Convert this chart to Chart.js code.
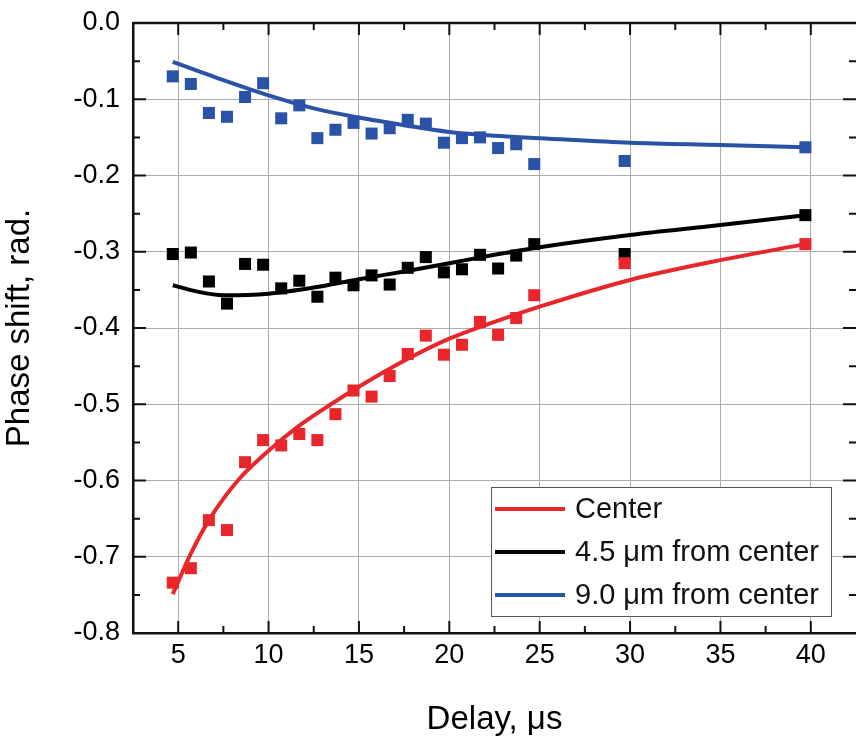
<!DOCTYPE html>
<html>
<head>
<meta charset="utf-8">
<script src="https://cdn.jsdelivr.net/npm/chart.js@4"></script>
<style>
  html, body { margin: 0; padding: 0; background: #fff; overflow: hidden; }
  canvas { display: block; }
</style>
</head>
<body>
<canvas id="phaseChart" width="856" height="743"></canvas>
<script>
// measured points, delay in µs
const delays = [4.7, 5.7, 6.7, 7.7, 8.7, 9.7, 10.7, 11.7, 12.7, 13.7, 14.7, 15.7,
  16.7, 17.7, 18.7, 19.7, 20.7, 21.7, 22.7, 23.7, 24.7, 29.7, 39.7];
const centerShift = [-0.734, -0.715, -0.652, -0.665, -0.576, -0.547, -0.554, -0.539,
  -0.547, -0.513, -0.482, -0.490, -0.463, -0.434, -0.410, -0.435, -0.422, -0.392,
  -0.409, -0.387, -0.357, -0.315, -0.290];
const shift45 = [-0.303, -0.301, -0.339, -0.368, -0.316, -0.317, -0.348, -0.338,
  -0.359, -0.334, -0.344, -0.331, -0.343, -0.321, -0.307, -0.327, -0.323, -0.304,
  -0.322, -0.305, -0.290, -0.303, -0.252];
const shift90 = [-0.070, -0.080, -0.118, -0.123, -0.097, -0.079, -0.125, -0.108,
  -0.151, -0.140, -0.131, -0.145, -0.138, -0.127, -0.132, -0.157, -0.151, -0.150,
  -0.164, -0.159, -0.185, -0.181, -0.163];

// fitted curves, sampled along the delay axis
const centerFitDelays = [4.7, 5.7, 6.7, 8.3, 10, 11.7, 13.45, 15, 17.5, 20, 22.5, 25, 30, 35, 39.7];
const centerFit = [-0.749, -0.696, -0.652, -0.600, -0.561, -0.528, -0.500, -0.477,
  -0.443, -0.414, -0.392, -0.372, -0.337, -0.311, -0.290];
const fitDelays = [4.7, 6, 7.5, 10, 12.5, 15, 17.5, 20, 22.5, 25, 30, 35, 39.7];
const fit45 = [-0.344, -0.352, -0.357, -0.355, -0.347, -0.336, -0.326, -0.315,
  -0.304, -0.294, -0.278, -0.265, -0.252];
const fit90 = [-0.051, -0.062, -0.075, -0.095, -0.112, -0.124, -0.134, -0.143,
  -0.148, -0.151, -0.157, -0.160, -0.163];

const seriesNames = ['Center', '4.5 μm from center', '9.0 μm from center'];
const seriesColors = ['#e8262b', '#000000', '#2a52a6'];

const xMajor = [5, 10, 15, 20, 25, 30, 35, 40];
const yMajor = [0, -0.1, -0.2, -0.3, -0.4, -0.5, -0.6, -0.7, -0.8];

const fontFamily = "'Liberation Sans', Arial, sans-serif";

const toPoints = (xs, ys) => xs.map((x, i) => ({ x: x, y: ys[i] }));

const pointSets = [centerShift, shift45, shift90].map((ys, i) => ({
  label: seriesNames[i] + ' data',
  data: toPoints(delays, ys),
  pointStyle: 'rect',
  pointRadius: 8.5,
  pointBorderWidth: 0,
  backgroundColor: seriesColors[i],
  borderColor: seriesColors[i],
  showLine: false
}));

const fitSets = [
  [centerFitDelays, centerFit],
  [fitDelays, fit45],
  [fitDelays, fit90]
].map(([xs, ys], i) => ({
  label: seriesNames[i],
  fit: true,
  data: toPoints(xs, ys),
  showLine: true,
  borderColor: seriesColors[i],
  backgroundColor: seriesColors[i],
  borderWidth: 4,
  pointRadius: 0,
  cubicInterpolationMode: 'monotone'
}));

// inward tick marks on all four sides plus the top border
const axisFrame = {
  id: 'axisFrame',
  afterDatasetsDraw(chart) {
    const { ctx, chartArea: a, scales: { x, y } } = chart;
    ctx.save();
    ctx.strokeStyle = '#111';
    ctx.lineWidth = 2.5;
    ctx.beginPath();
    ctx.moveTo(a.left, a.top);
    ctx.lineTo(a.right, a.top);
    ctx.stroke();

    ctx.lineWidth = 2;
    ctx.beginPath();
    const xMinor = xMajor.slice(1).map((v, i) => (v + xMajor[i]) / 2);
    const yMinor = yMajor.slice(1).map((v, i) => (v + yMajor[i]) / 2);
    const xMarks = xMajor.map(v => [v, 12]).concat(xMinor.map(v => [v, 7]));
    const yMarks = yMajor.map(v => [v, 13]).concat(yMinor.map(v => [v, 7]));
    xMarks.forEach(([v, len]) => {
      const px = x.getPixelForValue(v);
      ctx.moveTo(px, a.bottom); ctx.lineTo(px, a.bottom - len);
      ctx.moveTo(px, a.top); ctx.lineTo(px, a.top + len);
    });
    yMarks.forEach(([v, len]) => {
      const py = y.getPixelForValue(v);
      ctx.moveTo(a.left, py); ctx.lineTo(a.left + len, py);
      ctx.moveTo(a.right, py); ctx.lineTo(a.right - len, py);
    });
    ctx.stroke();
    ctx.restore();
  }
};

// boxed legend in the lower right corner, one row per fitted curve
const fitLegend = {
  id: 'fitLegend',
  afterDraw(chart) {
    const { ctx, chartArea: a } = chart;
    const fits = chart.data.datasets.filter(d => d.fit);
    const w = 340, h = 129;
    const bx = a.right - 25 - w, by = a.bottom - 17 - h;
    ctx.save();
    ctx.fillStyle = '#fff';
    ctx.fillRect(bx, by, w, h);
    ctx.strokeStyle = '#555';
    ctx.lineWidth = 1;
    ctx.strokeRect(bx + 0.5, by + 0.5, w, h);
    ctx.font = '29px ' + fontFamily;
    ctx.textBaseline = 'middle';
    fits.forEach((d, i) => {
      const ry = by + 22 + i * 43;
      ctx.strokeStyle = d.borderColor;
      ctx.lineWidth = 4;
      ctx.beginPath();
      ctx.moveTo(bx + 4, ry);
      ctx.lineTo(bx + 74, ry);
      ctx.stroke();
      ctx.fillStyle = '#111';
      ctx.fillText(d.label, bx + 84, ry + 1);
    });
    ctx.restore();
  }
};

// fixed box sizes so the plot area sits at a set place in the canvas
const fixBox = size => scale => {
  if (scale.isHorizontal()) scale.height = size; else scale.width = size;
  scale.paddingTop = 0;
  scale.paddingBottom = 0;
  scale.paddingLeft = 0;
  scale.paddingRight = 0;
};

const tickFont = { family: fontFamily, size: 27 };
const titleFont = { family: fontFamily, size: 33 };

new Chart(document.getElementById('phaseChart').getContext('2d'), {
  type: 'scatter',
  data: { datasets: pointSets.concat(fitSets) },
  options: {
    responsive: false,
    animation: false,
    layout: { autoPadding: false, padding: { top: 23, right: -2, bottom: 0, left: 0 } },
    plugins: {
      legend: { display: false },
      tooltip: { enabled: false }
    },
    scales: {
      x: {
        type: 'linear',
        min: 2.5,
        max: 42.5,
        afterFit: fixBox(110),
        afterBuildTicks: scale => { scale.ticks = xMajor.map(v => ({ value: v })); },
        ticks: { color: '#000', font: tickFont, padding: 6 },
        grid: { color: '#ababab', lineWidth: 1, drawTicks: false },
        border: { color: '#111', width: 2.5 },
        title: {
          display: true, text: 'Delay, μs', color: '#000', font: titleFont,
          padding: { top: 0, bottom: 3 }
        }
      },
      y: {
        min: -0.8,
        max: 0,
        afterFit: fixBox(133),
        afterBuildTicks: scale => { scale.ticks = yMajor.map(v => ({ value: v })); },
        ticks: { color: '#000', font: tickFont, padding: 13, callback: v => v.toFixed(1) },
        grid: { color: '#ababab', lineWidth: 1, drawTicks: false },
        border: { color: '#111', width: 2.5 },
        title: {
          display: true, text: 'Phase shift, rad.', color: '#000', font: titleFont,
          padding: { top: 0, bottom: 0 }
        }
      }
    }
  },
  plugins: [axisFrame, fitLegend]
});
</script>
</body>
</html>
